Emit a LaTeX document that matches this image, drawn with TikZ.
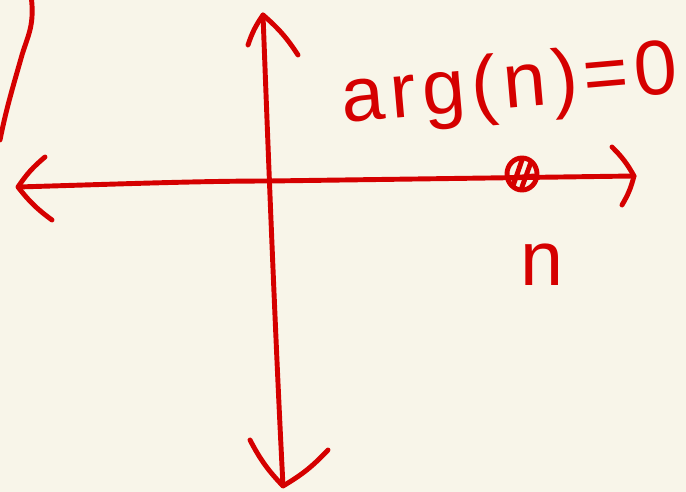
\documentclass[tikz,border=0pt]{standalone}
\usepackage{fontspec}
\setmainfont{Liberation Sans}
\usetikzlibrary{calc,positioning}
\definecolor{penred}{HTML}{D50000}
\definecolor{paperbg}{HTML}{F8F5E9}
\tikzset{
  pen/.style={penred,line width=2.8pt,line cap=round,line join=round},
  lbl/.style={penred,font=\fontsize{44}{44}\selectfont\addfontfeature{LetterSpace=8},inner sep=0pt}
}

\begin{document}
\begin{tikzpicture}[x=0.02cm,y=-0.02cm]
\fill[paperbg] (0,0) rectangle (686,492);
\useasboundingbox (0,0) rectangle (686,492);
% axis ends
\coordinate (W) at (18,187); \coordinate (E) at (634,176);
\coordinate (N) at (263,15); \coordinate (S) at (283,486);
\coordinate (O) at (270,181);
% axes
\draw[pen] (W) .. controls (120,184) and (200,181) .. (O) -- (E);
\draw[pen] (N) .. controls (270,200) and (276,350) .. (S);
% hand drawn heads
\draw[pen] (45,157) to[bend right=8] (W) to[bend right=8] (52,220);
\draw[pen] (612,147) to[bend left=8] (E) to[bend left=8] (622,205);
\draw[pen] (248,45) to[bend left=8] (N) to[bend left=8] (298,55);
\draw[pen] (250,440) to[bend right=8] (S) to[bend right=8] (328,450);
% the point n
\coordinate (pt) at (522,174);
\draw[pen] (pt) ellipse [x radius=15,y radius=16];
\draw[pen] ($(pt)+(-9,12)$) -- ($(pt)+(0,-14)$) ($(pt)+(0,13)$) -- ($(pt)+(9,-12)$)
  ($(pt)+(-12,4)$) -- ($(pt)+(12,2)$);
\node[lbl] (nlab) at (542,265) {n};
% label
\node[lbl,rotate=5] (arg) at (510,88) {arg(n)=0};
% bit of a bracket at the left edge
\draw[pen] (31,-5) .. controls (35,25) and (28,35) .. (22,55) .. controls (12,90) and (6,110) .. (0,140);
\end{tikzpicture}
\end{document}
